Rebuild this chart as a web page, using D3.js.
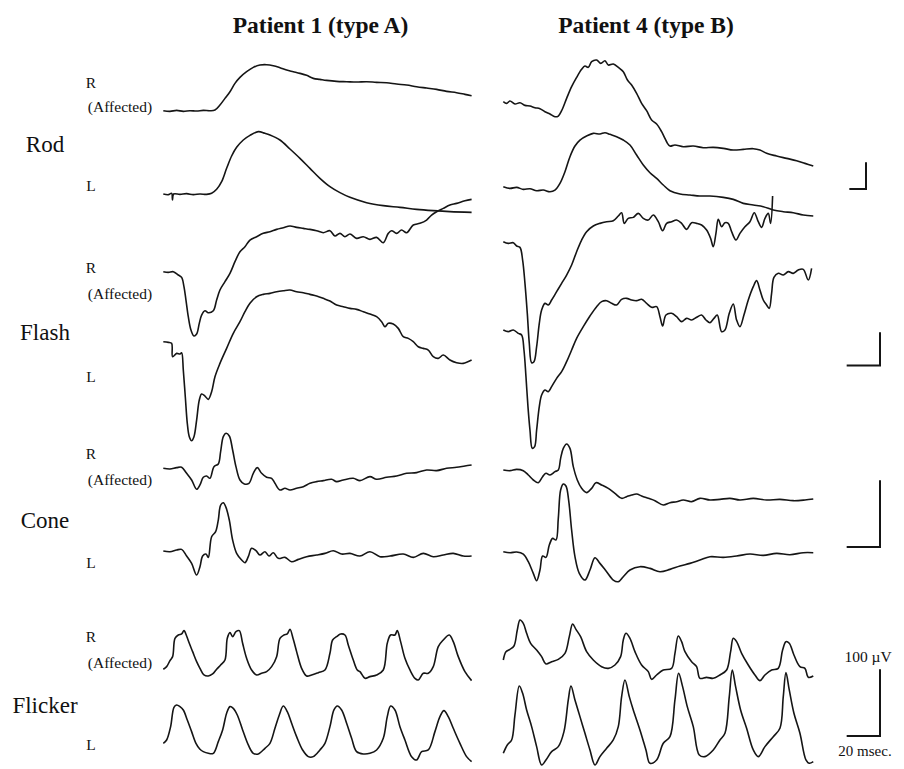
<!DOCTYPE html>
<html>
<head>
<meta charset="utf-8">
<script src="https://cdn.jsdelivr.net/npm/d3@7"></script>
<style>
  body { margin: 0; background: #fff; }
  svg { display: block; }
  text { font-family: "Liberation Serif", "Times New Roman", serif; fill: #111; }
</style>
</head>
<body>
<svg id="chart" width="904" height="769"></svg>
<script>
// Column titles and row names
const patients = ['Patient 1 (type A)', 'Patient 4 (type B)'];
const protocols = ['Rod', 'Flash', 'Cone', 'Flicker'];
const eyeLabels = ['R', '(Affected)', 'L'];

// Traces are [ms, µV] pairs
// Rod response (R = affected eye, L = fellow eye)
const rodP1R = [[0,0],[8,-2],[16,1],[24,-2],[32,0],[40,-1],[48,1],[56,0],[62,2],[68,17],[74,37],[80,57],[86,82],[92,100],[100,117],[108,130],[116,137],[124,138],[132,135],[140,129],[148,122],[156,117],[164,112],[172,106],[180,97],[188,94],[196,91],[208,88],[220,87],[232,86],[244,87],[256,85],[268,84],[280,80],[292,77],[304,72],[316,68],[328,64],[340,58],[352,54],[362,49],[370,45]];
const rodP1L = [[0,0],[6,-2],[10,2],[11,-18],[12.4,0],[20,-1],[28,1],[36,-2],[44,0],[52,-1],[58,2],[64,14],[70,37],[76,77],[82,114],[88,140],[96,162],[104,176],[114,187],[122,182],[128,177],[140,162],[152,135],[164,107],[176,77],[188,47],[200,22],[212,4],[224,-10],[244,-26],[264,-35],[284,-40],[304,-46],[324,-50],[344,-53],[370,-55]];
const rodP4R = [[0,0],[4,-5],[8,2],[14,-7],[20,-3],[26,-11],[32,-13],[38,-18],[44,-21],[50,-30],[56,-37],[62,-45],[66,-43],[70,-27],[76,10],[82,45],[88,73],[94,97],[98,107],[102,103],[106,120],[112,125],[117,115],[122,123],[126,110],[132,113],[138,103],[144,90],[149,65],[154,50],[160,25],[166,-5],[172,-27],[178,-55],[184,-67],[190,-90],[194,-110],[197,-125],[200,-133],[206,-130],[216,-135],[228,-133],[240,-138],[252,-137],[264,-140],[276,-145],[288,-143],[300,-141],[308,-145],[316,-155],[328,-163],[340,-170],[352,-177],[362,-185],[372,-193]];
const rodP4L = [[0,0],[8,-5],[16,-2],[24,-8],[32,-6],[40,-12],[48,-10],[56,-15],[62,-10],[68,10],[74,45],[80,90],[86,122],[92,140],[100,152],[108,160],[116,158],[122,162],[128,157],[136,150],[144,140],[152,125],[160,95],[168,65],[176,42],[184,25],[192,5],[200,-12],[212,-22],[224,-25],[236,-28],[248,-28],[264,-32],[276,-38],[288,-50],[300,-55],[312,-60],[324,-70],[336,-75],[348,-78],[360,-85],[372,-88]];

// Mixed (flash) response
const flashP1R = [[0,0],[3,-2],[6,0],[9,-10],[11,-17],[12.4,-45],[13.6,-85],[15,-135],[16.6,-175],[18.4,-193],[20,-187],[21.6,-155],[23,-130],[25,-117],[27,-123],[30,-117],[32,-85],[34,-55],[37,-30],[40,-5],[43,30],[46,60],[49,75],[52,95],[56,105],[60,115],[64,120],[68,127],[72,132],[76,137],[80,133],[84,130],[88,127],[92,123],[96,117],[100,123],[103,107],[106,115],[109,105],[112,113],[116,100],[120,105],[124,97],[128,103],[132,87],[135,115],[137,123],[140,115],[143,125],[146,117],[150,140],[154,145],[158,155],[161,170],[164,180],[168,190],[172,200],[176,205],[181,213],[185,217]];
const flashP1L = [[0,0],[3,-2],[5,-5],[5.6,-45],[8,-35],[10,-37],[11,-33],[12,-85],[13.2,-165],[14.4,-245],[15.6,-285],[17,-297],[18.4,-285],[20,-235],[21.6,-175],[23,-157],[25,-163],[27,-173],[29,-150],[31,-105],[34,-65],[38,-20],[42,25],[46,60],[49,90],[52,115],[56,135],[60,142],[64,145],[68,150],[72,153],[76,155],[80,150],[84,147],[88,142],[92,137],[96,130],[100,122],[104,110],[108,105],[112,100],[116,97],[120,90],[124,83],[128,75],[131,60],[133,45],[135,55],[138,53],[141,40],[144,15],[147,10],[150,0],[153,-15],[156,-20],[159,-25],[162,-45],[165,-50],[168,-40],[172,-55],[176,-63],[180,-65],[185,-55]];
const flashP4R = [[0,0],[3,-5],[6,-3],[8,-13],[10,-17],[11.6,-55],[13,-125],[14.4,-215],[15.6,-305],[17,-363],[18.4,-360],[20,-315],[21.6,-245],[23,-205],[25,-185],[27,-190],[29,-175],[32,-150],[35,-125],[38,-100],[41,-70],[44,-30],[47,5],[50,30],[54,47],[58,55],[62,60],[66,63],[69,77],[71,87],[72.6,55],[75,70],[78,73],[81,85],[84,70],[87,65],[90,80],[93,60],[95.6,33],[98,55],[101,60],[104,65],[107,55],[110,37],[113,57],[116,55],[119,50],[122,35],[124.4,10],[126,-15],[127.6,25],[129,67],[131,45],[133,57],[135,55],[137,30],[139.6,5],[142,25],[145,45],[148,60],[150.6,87],[153,60],[155,43],[157,70],[159,85],[160.4,55],[161.6,137]];
const flashP4L = [[0,0],[3,-5],[6,0],[9,-10],[11,-15],[12.4,-60],[13.6,-140],[14.8,-230],[16,-300],[17.4,-355],[18.8,-350],[20,-300],[21.6,-230],[23,-195],[25,-180],[27,-185],[29,-170],[32,-145],[35,-125],[38,-95],[41,-60],[44,-25],[48,10],[52,42],[56,70],[59,85],[62,88],[65,80],[68,75],[71,92],[74,95],[77,90],[80,88],[83,92],[86,80],[89,68],[92,70],[94,40],[95.6,12],[97.6,45],[101,50],[104,40],[107,25],[110,35],[113,30],[116,38],[119,45],[121.6,30],[124,22],[126.4,35],[128.4,45],[131,-5],[133,0],[135.6,50],[138,78],[140,30],[142,10],[144.4,45],[147,90],[150,130],[152,148],[154,120],[156,90],[158,75],[159.6,65],[161,110],[162.4,158],[165,170],[168,165],[171,175],[174,170],[177,180],[180,182],[183,150],[185,185]];

// Cone (photopic) response
const coneP1R = [[0,0],[4,-1],[8,1],[11,1.5],[14,-7.5],[17,-17.5],[20,-31.5],[22,-25],[24,-13.5],[26,-11.5],[28,-15],[30.4,2.5],[33,6.5],[34.4,25],[36,47.5],[37.6,52.5],[39.6,48.5],[41.6,27.5],[43.6,2.5],[46,-17.5],[48.6,-23.5],[51.4,-22.5],[54,-7.5],[56.4,1],[59,-7.5],[62,-13.5],[65,-15],[67,-22.5],[70,-32.5],[73,-30],[76,-32.5],[80,-30],[84,-27.5],[88,-22.5],[92,-20],[96,-18.5],[101,-16.5],[104,-20],[108,-17.5],[114,-15],[118,-18.5],[124,-12.5],[128,-16.5],[134,-13.5],[140,-11.5],[146,-7.5],[152,-6.5],[158,-2.5],[164,-3.5],[170,0],[176,1.5],[181,3.5],[185,5]];
const coneP1L = [[0,-0.5],[4,-1.5],[8,1],[11,2],[14,-8],[17,-19],[20,-36.5],[22,-24],[23.6,-8],[25.6,-5],[27,-10],[29,21],[31.4,28.5],[33,46],[34.4,68.5],[36,72],[37.6,65],[39.6,46],[41.6,16],[44,-4],[47,-14],[49,-18],[51,-9],[53,3.5],[55.6,0],[58,-6.5],[61,-1.5],[63.4,-8],[66,-3],[69,-11.5],[73,-10],[77,-16.5],[81,-13],[86,-9],[92,-6.5],[97,-4],[102,0],[107,-5],[112,-4],[118,-8],[124,-1.5],[130,-9],[136,-8],[144,-5],[150,-10],[156,-4],[162,-9],[168,-6.5],[174,-4],[180,-8],[185,-8]];
const coneP4R = [[0,0],[4,-1],[8,1],[12,-1],[15,-7.5],[18,-15],[21,-19],[23.6,-10],[25.6,-5],[28,-7.5],[31,-2.5],[33,0],[34.4,17.5],[36,32.5],[38,39],[40,32.5],[42,5],[44.4,-15],[47,-27.5],[50,-34],[53,-27.5],[55.6,-19],[59,-22.5],[63,-27.5],[67,-35],[71,-42.5],[74,-40],[77,-37.5],[80,-36],[83,-39],[87,-42.5],[91,-46],[96,-52.5],[100,-49],[104,-47.5],[108,-45],[113,-47.5],[118,-42.5],[124,-45],[130,-44],[136,-42.5],[142,-45],[150,-42.5],[158,-45],[166,-44],[174,-46],[181,-45],[186,-43.5]];
const coneP4L = [[0,0],[4,-1.5],[8,-0.5],[12,-3.5],[15,-15],[18,-32.5],[20,-43.5],[22,-27.5],[23.6,-6.5],[25.6,-8.5],[27.6,10],[29.6,20],[31.6,17.5],[33,50],[34.4,92.5],[36,101.5],[37.6,98.5],[39.2,77.5],[41,32.5],[43,-7.5],[45.6,-32.5],[49,-42.5],[52,-27.5],[55,-9],[58,-17.5],[62,-30],[66,-42.5],[69,-45],[72,-37.5],[76,-27.5],[82,-22.5],[88,-25],[94,-30],[100,-26.5],[106,-21.5],[112,-17.5],[118,-12.5],[124,-7.5],[132,-8.5],[140,-6.5],[148,-3.5],[156,-5.5],[164,-2.5],[172,-4.5],[180,-1.5],[186,-1.5]];

// 30 Hz flicker response
const flickerP1R = [[0,0],[2,4],[4,13],[5.6,19],[7,46.5],[9,51.5],[11,53],[12.4,58],[14,50],[15.6,39],[17.6,26.5],[20,11.5],[22,1.5],[24.4,-8.5],[27,-10],[29.6,-7],[32,0],[34.4,6.5],[37,14],[38.4,46.5],[40,55],[41.6,49],[43.6,56.5],[45.6,58],[47.6,39],[50,16.5],[53,-1],[56,-8.5],[59,-6],[62,-3.5],[65,4],[68,19],[70,46.5],[72.4,51.5],[74.4,53],[76,60],[78,45],[80,26.5],[83,1.5],[86,-10],[89,-8.5],[93,-5],[97,-1],[100,24],[101.6,44],[104,49],[106.4,53],[109,51.5],[111,36.5],[114,14],[116.4,-1],[118,-3.5],[121,-13.5],[124,-11],[128,-8.5],[132,-1],[134.4,39],[136.4,51.5],[139,51.5],[140.4,58],[142.4,41.5],[145,16.5],[148,-1],[151,-13.5],[153,-16],[156,-6],[159,-6],[162,4],[165,34],[168,44],[171.6,51.5],[174,41.5],[177,19],[181,-3.5],[185,-17]];
const flickerP1L = [[0,0],[2,5],[4.4,25],[6.4,54],[8,57.5],[10,55],[12,50],[14.4,35],[17,17.5],[19.6,0],[22,-9],[24,-12.5],[27,-15],[30,-15],[33,2.5],[35.6,20],[38,45],[40,55],[42,52.5],[44.4,42.5],[47.6,20],[51,-2.5],[54,-15],[57,-16],[61,-7.5],[64,0],[67,22.5],[69.6,42.5],[72,56],[74.4,47.5],[77,30],[80,10],[83.6,-10],[87,-20],[90,-20],[94,-10],[97,0],[100,25],[102.4,50],[104.4,56],[107,50],[110,30],[113,7.5],[116,-12.5],[120,-16],[124,-15],[128,-10],[132,7.5],[134.4,40],[136.4,56],[139,50],[142,25],[145,5],[149,-20],[152,-25],[155,-12.5],[159,-10],[163,17.5],[166,40],[168.4,49],[171,40],[174,22.5],[178,0],[182,-20],[185,-27.5]];
const flickerP4R = [[0,0],[1.6,12.5],[4,16],[6.4,21],[8.4,45],[10,60],[12,55],[14,40],[16.4,25],[20,15],[23,5],[25.6,-6],[29,-2.5],[33,1],[37,10],[39.6,35],[41.6,54],[43.6,46],[46.4,35],[50,12.5],[54,0],[59,-10],[63,-12.5],[67,-7.5],[70.4,5],[72,30],[73.6,40],[76,32.5],[79,12.5],[83,-7.5],[87,-17.5],[89,-29],[92,-22.5],[96,-15],[101,-12.5],[103,10],[105,36],[107,27.5],[109,12.5],[113,-2.5],[116,-10],[118,-27.5],[122,-26],[126,-27.5],[130,-22.5],[134,-15],[136.4,12.5],[138,32.5],[140,27.5],[143,10],[147,-7.5],[151,-22.5],[154,-31],[157,-22.5],[161,-15],[165,-12.5],[167.6,15],[169.6,27.5],[171.6,25],[174.4,7.5],[178,-10],[181,-12.5],[183,-26],[186,-24]];
const flickerP4L = [[0,0],[2.4,12.5],[5,20],[7,57.5],[9.6,101],[11.6,90],[14,65],[17,40],[20,10],[23,-17.5],[25.6,-10],[29,2.5],[33,10],[36.4,32.5],[39,80],[40.6,101],[43,80],[46,55],[49,30],[52,5],[55,-17.5],[58,-5],[62,7.5],[66,20],[69,40],[71,85],[73,110],[75.6,85],[78,65],[82,35],[85.6,5],[88,-15],[92,-10],[96,15],[100,25],[103,80],[105.2,120],[107.6,100],[110.4,70],[114,40],[117.6,-2.5],[121,-5],[126,5],[130,20],[133,30],[135.6,85],[137.4,125],[139.4,100],[142.4,65],[146,37.5],[150,5],[153,-5],[157,10],[162,25],[166,37.5],[168,85],[169.6,121],[171.6,95],[174.4,60],[178,30],[181.6,-10],[183.6,-15],[186,-12.5]];

// Calibration bars [ms, µV]
const barMs = [20, 20, 20, 20];
const barUv = [80, 100, 100, 100];
const barText = ['100 \u00b5V', '20 msec.'];

// Layout
const colX = [163.3, 503.3];
const traceW = 308.3;
const rows = [
  { windowMs: 370, uvPerPx: 3, traces: [[rodP1R, rodP1L], [rodP4R, rodP4L]], base: [[110.7, 194], [101.7, 186.7]], labelY: [88, 112, 152, 191], bar: [866, 189] },
  { windowMs: 185, uvPerPx: 3, traces: [[flashP1R, flashP1L], [flashP4R, flashP4L]], base: [[271.7, 341.7], [241.7, 330]], labelY: [273, 299, 340, 382], bar: [880, 365.5] },
  { windowMs: 185, uvPerPx: 1.5, traces: [[coneP1R, coneP1L], [coneP4R, coneP4L]], base: [[468.3, 550.7], [470, 551.7]], labelY: [459, 485, 528, 568], bar: [880, 547] },
  { windowMs: 185, uvPerPx: 1.5, traces: [[flickerP1R, flickerP1L], [flickerP4R, flickerP4L]], base: [[669.3, 743.3], [660, 753.3]], labelY: [642, 668, 713, 750], bar: [880, 736] }
];

const svg = d3.select('#chart');

// Column titles
svg.selectAll('.title')
  .data(patients)
  .enter()
  .append('text')
  .attr('class', 'title')
  .attr('x', (d, i) => [320.5, 646][i])
  .attr('y', 33)
  .attr('text-anchor', 'middle')
  .style('font-size', '23.5px')
  .style('font-weight', 'bold')
  .text(d => d);

rows.forEach((row, r) => {
  // Row labels on the left
  const g = svg.append('g').attr('class', 'row-labels');
  g.append('text').attr('x', 91).attr('y', row.labelY[0]).attr('text-anchor', 'middle')
    .style('font-size', '15.5px').text(eyeLabels[0]);
  g.append('text').attr('x', 120).attr('y', row.labelY[1]).attr('text-anchor', 'middle')
    .style('font-size', '15.5px').text(eyeLabels[1]);
  g.append('text').attr('x', 45).attr('y', row.labelY[2]).attr('text-anchor', 'middle')
    .style('font-size', '23px').text(protocols[r]);
  g.append('text').attr('x', 91).attr('y', row.labelY[3]).attr('text-anchor', 'middle')
    .style('font-size', '15.5px').text(eyeLabels[2]);

  // Waveforms
  row.traces.forEach((pair, c) => {
    const x = d3.scaleLinear().domain([0, row.windowMs]).range([colX[c], colX[c] + traceW]);
    pair.forEach((data, e) => {
      const b = row.base[c][e];
      const y = d3.scaleLinear().domain([0, 100]).range([b, b - 100 / row.uvPerPx]);
      const line = d3.line()
        .x(d => x(d[0]))
        .y(d => y(d[1]))
        .curve(d3.curveCatmullRom.alpha(0.5));
      svg.append('path')
        .datum(data)
        .attr('d', line)
        .attr('fill', 'none')
        .attr('stroke', '#151515')
        .attr('stroke-width', 1.6)
        .attr('stroke-linejoin', 'round');
    });
  });

  // Calibration bar
  const xs = d3.scaleLinear().domain([0, row.windowMs]).range([0, traceW]);
  const ys = d3.scaleLinear().domain([0, 100]).range([0, 100 / row.uvPerPx]);
  const [bx, by] = row.bar;
  const w = xs(barMs[r]);
  const h = ys(barUv[r]);
  svg.append('path')
    .attr('d', `M${bx - w},${by}H${bx}V${by - h}`)
    .attr('fill', 'none')
    .attr('stroke', '#151515')
    .attr('stroke-width', 2);

  if (r === rows.length - 1) {
    svg.append('text').attr('x', 868).attr('y', by - h - 7).attr('text-anchor', 'middle')
      .style('font-size', '15.5px').text(barText[0]);
    svg.append('text').attr('x', 865).attr('y', by + 20).attr('text-anchor', 'middle')
      .style('font-size', '15px').text(barText[1]);
  }
});
</script>
</body>
</html>
